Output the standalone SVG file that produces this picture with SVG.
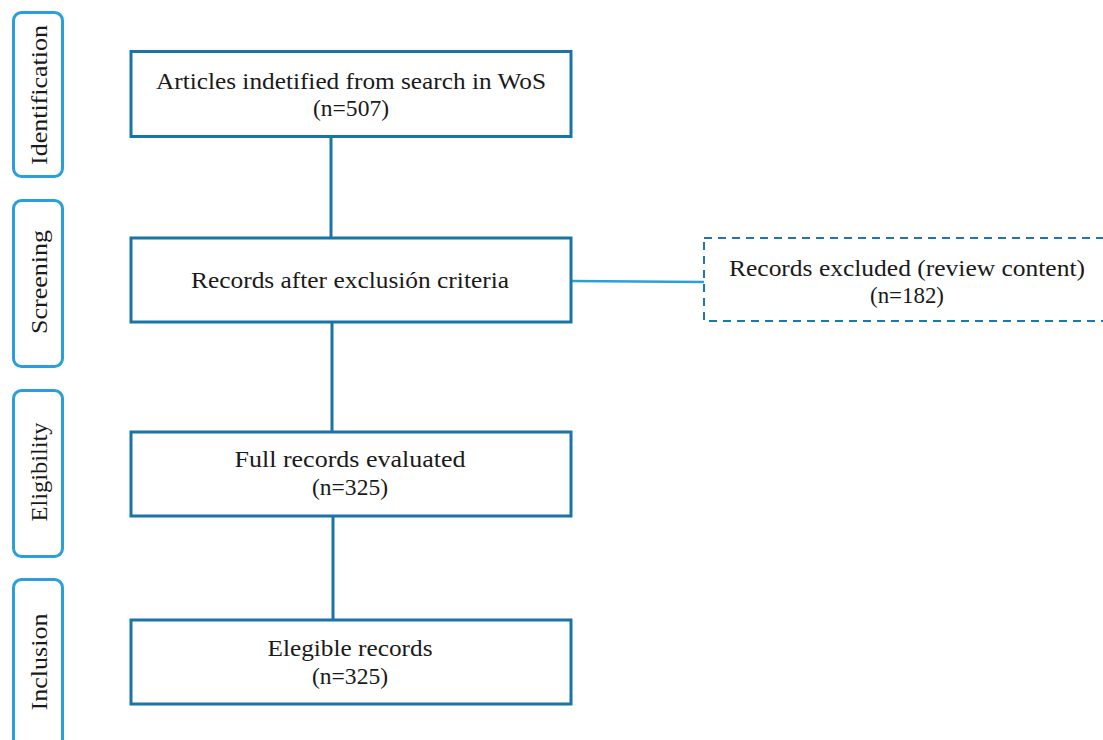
<svg xmlns="http://www.w3.org/2000/svg" width="1103" height="740" viewBox="0 0 1103 740">
<style>
.phase{fill:#fff;stroke:#2a9fdc;stroke-width:3}
.box{fill:#fff;stroke:#1a74a6;stroke-width:3}
.dash{fill:#fff;stroke:#1f78aa;stroke-width:2;stroke-dasharray:8 6}
.t{font-family:"Liberation Serif","DejaVu Serif",serif;font-size:24px;fill:#1a1a1a;text-anchor:middle}
.c{fill:none;stroke:#1a74a6;stroke-width:3}
.c2{fill:none;stroke:#2a9fdc;stroke-width:2.5}
</style>
<rect width="1103" height="740" fill="#fff"/>
<g id="phase-identification">
<rect class="phase" x="13.5" y="12.5" width="49" height="164" rx="8"/>
<text class="t" transform="translate(47,95) rotate(-90)" textLength="140" lengthAdjust="spacingAndGlyphs">Identification</text>
</g>
<g id="phase-screening">
<rect class="phase" x="13.5" y="200.5" width="49" height="166" rx="8"/>
<text class="t" transform="translate(47,282) rotate(-90)" textLength="104" lengthAdjust="spacingAndGlyphs">Screening</text>
</g>
<g id="phase-eligibility">
<rect class="phase" x="13.5" y="390.5" width="49" height="166" rx="8"/>
<text class="t" transform="translate(47,472) rotate(-90)" textLength="99" lengthAdjust="spacingAndGlyphs">Eligibility</text>
</g>
<g id="phase-inclusion">
<rect class="phase" x="13.5" y="579.5" width="49" height="175" rx="8"/>
<text class="t" transform="translate(47,662) rotate(-90)" textLength="97" lengthAdjust="spacingAndGlyphs">Inclusion</text>
</g>
<g id="connectors">
<line class="c" x1="331" y1="136" x2="331" y2="238"/>
<line class="c" x1="332" y1="322" x2="332" y2="432"/>
<line class="c" x1="333" y1="516" x2="333" y2="620"/>
<line class="c2" x1="571" y1="281" x2="704" y2="282"/>
</g>
<g id="node-articles">
<rect class="box" x="131" y="51.5" width="440" height="85"/>
<text class="t" x="351" y="89" textLength="390" lengthAdjust="spacingAndGlyphs">Articles indetified from search in WoS</text>
<text class="t" x="351" y="116" textLength="76" lengthAdjust="spacingAndGlyphs">(n=507)</text>
</g>
<g id="node-records-after">
<rect class="box" x="131" y="238" width="440" height="84"/>
<text class="t" x="350" y="288" textLength="318" lengthAdjust="spacingAndGlyphs">Records after exclusión criteria</text>
</g>
<g id="node-excluded">
<rect class="dash" x="704" y="238" width="420" height="83"/>
<text class="t" x="907" y="276" textLength="356" lengthAdjust="spacingAndGlyphs">Records excluded (review content)</text>
<text class="t" x="907" y="303" textLength="74" lengthAdjust="spacingAndGlyphs">(n=182)</text>
</g>
<g id="node-full-records">
<rect class="box" x="131" y="432" width="440" height="84"/>
<text class="t" x="350" y="467" textLength="231" lengthAdjust="spacingAndGlyphs">Full records evaluated</text>
<text class="t" x="350" y="495" textLength="76" lengthAdjust="spacingAndGlyphs">(n=325)</text>
</g>
<g id="node-elegible">
<rect class="box" x="131" y="620" width="440" height="84"/>
<text class="t" x="350" y="656" textLength="165" lengthAdjust="spacingAndGlyphs">Elegible records</text>
<text class="t" x="350" y="684" textLength="76" lengthAdjust="spacingAndGlyphs">(n=325)</text>
</g>
</svg>
